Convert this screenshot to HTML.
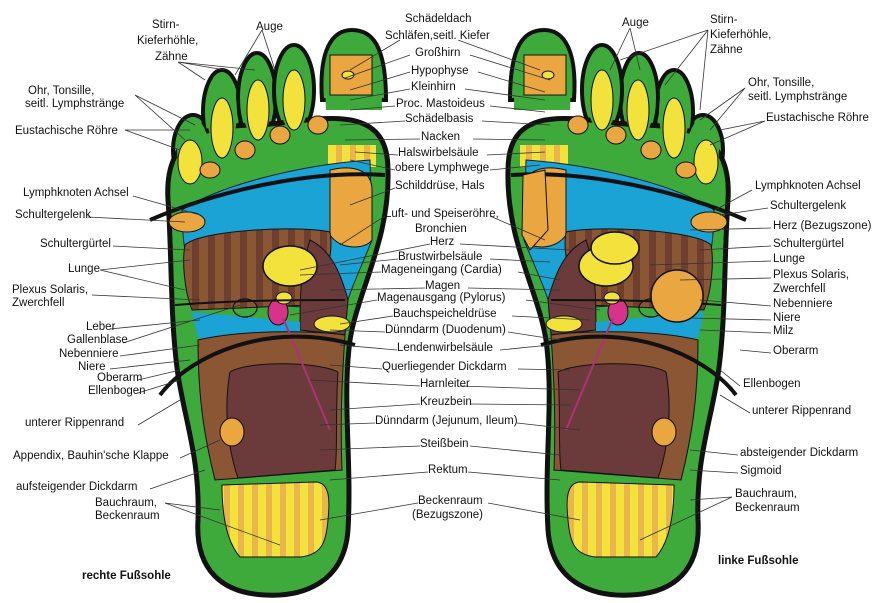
<!DOCTYPE html>
<html><head><meta charset="utf-8"><style>
html,body{margin:0;padding:0;background:#fff;}
svg{display:block;}
text{font-family:"Liberation Sans",sans-serif;font-size:11.5px;fill:#111;}
</style></head><body>
<svg width="894" height="603" viewBox="0 0 894 603" xmlns="http://www.w3.org/2000/svg">
<defs>
<pattern id="br" width="16" height="10" patternUnits="userSpaceOnUse"><rect width="16" height="10" fill="#8a5634"/><rect width="7" height="10" fill="#6e3f2e"/></pattern>
<pattern id="ys" width="14" height="10" patternUnits="userSpaceOnUse"><rect width="14" height="10" fill="#f4e23c"/><rect width="6" height="10" fill="#eab54a"/></pattern>
<g id="foot">
 <ellipse cx="193" cy="150" rx="20" ry="35" fill="#3faa3c" stroke="#111" stroke-width="4"/>
 <ellipse cx="222" cy="112" rx="19" ry="42" fill="#3faa3c" stroke="#111" stroke-width="4"/>
 <ellipse cx="257" cy="98" rx="19" ry="45" fill="#3faa3c" stroke="#111" stroke-width="4"/>
 <ellipse cx="294" cy="90" rx="20" ry="45" fill="#3faa3c" stroke="#111" stroke-width="4"/>
 <path d="M322 100 C318 40 338 30 352 30 C372 30 386 45 386 100 Z" fill="#3faa3c" stroke="#111" stroke-width="4"/>
 <path d="M168 200 C164 135 205 125 260 125 C320 120 388 100 388 170 C390 240 358 290 350 340 C342 400 352 460 348 530 C344 585 300 597 265 595 C222 593 195 570 198 520 C200 460 186 425 178 375 C170 320 172 255 168 200 Z" fill="#3faa3c" stroke="#111" stroke-width="5"/>
 <ellipse cx="193" cy="150" rx="16" ry="31" fill="#3faa3c"/>
 <ellipse cx="222" cy="112" rx="15" ry="38" fill="#3faa3c"/>
 <ellipse cx="257" cy="98" rx="15" ry="41" fill="#3faa3c"/>
 <ellipse cx="294" cy="90" rx="16" ry="41" fill="#3faa3c"/>
 <path d="M326 110 C322 45 340 34 352 34 C368 34 382 48 382 110 Z" fill="#3faa3c"/>
 <ellipse cx="190" cy="162" rx="12" ry="22" fill="#f4e23c" stroke="#111"/>
 <ellipse cx="222" cy="128" rx="11" ry="30" fill="#f4e23c" stroke="#111"/>
 <ellipse cx="258" cy="110" rx="11" ry="30" fill="#f4e23c" stroke="#111"/>
 <ellipse cx="294" cy="100" rx="11" ry="30" fill="#f4e23c" stroke="#111"/>
 <ellipse cx="210" cy="170" rx="10" ry="8" fill="#eaa640" stroke="#111"/>
 <ellipse cx="245" cy="150" rx="10" ry="9" fill="#eaa640" stroke="#111"/>
 <ellipse cx="280" cy="135" rx="10" ry="9" fill="#eaa640" stroke="#111"/>
 <ellipse cx="318" cy="125" rx="10" ry="9" fill="#eaa640" stroke="#111"/>
 <rect x="330" y="55" width="42" height="40" fill="#eaa640" stroke="#111"/>
 <ellipse cx="348" cy="75" rx="6" ry="4" fill="#f4e23c" stroke="#111"/>
 <rect x="328" y="145" width="48" height="22" fill="url(#ys)"/>
 <path d="M182 210 C220 185 300 165 370 160 L372 240 C360 270 350 290 345 310 L200 300 C186 270 182 240 182 210 Z" fill="#1ba3d6" stroke="#123" stroke-width="1"/>
 <path d="M330 170 C350 165 372 168 372 190 L372 240 C365 250 340 250 330 235 Z" fill="#eaa640" stroke="#111"/>
 <path d="M185 245 C200 230 300 225 330 232 C335 260 320 290 310 305 L192 310 C184 290 182 260 185 245 Z" fill="url(#br)" stroke="#111"/>
 <path d="M310 240 C330 250 340 270 348 300 L345 335 L300 330 C300 300 300 270 310 240 Z" fill="#6b3a3a" stroke="#111"/>
 <ellipse cx="290" cy="266" rx="27" ry="20" fill="#f4e23c" stroke="#111" stroke-width="1.5"/>
 <ellipse cx="187" cy="222" rx="18" ry="10" fill="#eaa640" stroke="#111"/>
 <path d="M192 312 L300 322 L300 340 L198 338 Z" fill="#1ba3d6"/>
 <path d="M198 340 C240 330 310 330 345 335 C342 380 340 420 342 470 L215 480 C205 440 198 400 198 340 Z" fill="#8a5634" stroke="#111"/>
 <path d="M230 372 C250 360 320 362 338 372 C335 420 338 450 335 470 L238 478 C225 440 225 400 230 372 Z" fill="#6b3a3a" stroke="#111"/>
 <ellipse cx="232" cy="432" rx="12" ry="14" fill="#eaa640" stroke="#111"/>
 <path d="M222 485 L315 482 C330 482 330 500 328 520 C326 545 320 555 300 557 L240 557 C225 540 222 510 222 485 Z" fill="url(#ys)" stroke="#111"/>
 <ellipse cx="278" cy="312" rx="10" ry="13" fill="#d7338b" stroke="#111"/>
 <ellipse cx="284" cy="298" rx="8" ry="6" fill="#f4e23c" stroke="#111"/>
 <ellipse cx="332" cy="324" rx="18" ry="8" fill="#f4e23c" stroke="#111"/>
 <ellipse cx="245" cy="308" rx="12" ry="9" fill="none" stroke="#111" stroke-width="1.2"/>
 <line x1="283" y1="318" x2="330" y2="430" stroke="#b0307a" stroke-width="2"/>
 <path d="M150 220 C220 190 310 170 385 175" fill="none" stroke="#111" stroke-width="4"/>
 <path d="M175 305 C240 300 300 300 345 300" fill="none" stroke="#111" stroke-width="2"/>
 <path d="M160 395 C190 355 270 320 355 345" fill="none" stroke="#111" stroke-width="4"/>
</g>
</defs>
<use href="#foot"/>
<use href="#foot" transform="translate(896,0) scale(-1,1)"/>
<ellipse cx="677" cy="296" rx="26" ry="26" fill="#eaa640" stroke="#111" stroke-width="1.5"/>
<ellipse cx="615" cy="248" rx="24" ry="16" fill="#f4e23c" stroke="#111" stroke-width="1.5"/>
<path d="M523 175 L545 170 L548 230 L530 250 L522 235 Z" fill="#eaa640" stroke="#111"/>

<g stroke="#333" stroke-width="0.8" fill="none">
<path d="M400 40 L350 70 M410 55 L345 78 M410 72 L350 90 M410 89 L350 100 M395 106 L350 110 M405 121 L340 125 M420 139 L345 140 M398 155 L355 152 M395 170 L350 160 M395 188 L350 205 M385 216 L340 245 M430 244 L300 270 M398 259 L340 265 M381 272 L300 275 M425 288 L330 290 M377 300 L290 315 M393 316 L340 324 M385 332 L330 330 M397 350 L340 345 M382 369 L330 365 M420 386 L310 380 M420 404 L330 410 M375 423 L320 425 M420 446 L320 450 M428 472 L330 480 M418 503 L320 520"/>
<path d="M458 40 L540 70 M470 55 L550 80 M478 72 L545 92 M465 89 L545 100 M490 106 L545 112 M482 121 L550 125 M473 139 L545 140 M487 155 L545 152 M490 170 L540 165 M490 216 L545 240 M460 244 L570 250 M490 259 L550 262 M518 272 L560 280 M468 288 L560 290 M526 300 L600 310 M512 316 L590 320 M508 332 L560 340 M500 350 L550 345 M518 369 L570 370 M460 386 L580 390 M470 404 L570 405 M517 423 L580 430 M470 446 L560 455 M468 472 L560 480 M488 503 L580 520"/>
<path d="M178 62 L205 80 M178 62 L225 70 M178 62 L255 70 M262 30 L235 75 M262 30 L275 70 M135 95 L185 140 M135 95 L195 125 M125 130 L180 150 M125 130 L190 130 M133 196 L200 215 M88 217 L185 222 M113 246 L190 250 M100 270 L190 260 M100 270 L185 290 M92 295 L200 300 M110 329 L200 320 M123 343 L240 305 M120 356 L200 345 M110 369 L190 360 M138 380 L180 370 M138 393 L180 380 M138 425 L180 400 M180 458 L220 440 M150 489 L205 470 M165 503 L220 510 M165 503 L280 545"/>
<path d="M630 28 L610 70 M630 28 L640 70 M708 30 L620 60 M708 30 L665 85 M708 30 L700 110 M745 88 L700 120 M745 88 L710 130 M765 121 L720 130 M765 121 L710 145 M752 190 L715 210 M768 208 L720 215 M771 228 L690 230 M771 246 L700 250 M771 261 L650 265 M771 278 L680 280 M771 306 L700 300 M771 320 L690 318 M771 333 L700 330 M771 353 L740 350 M740 386 L720 370 M750 413 L720 395 M738 455 L690 450 M738 473 L690 470 M732 497 L690 500 M732 497 L640 540"/>
</g>

<g>
<text x="405" y="22">Schädeldach</text>
<text x="385" y="39">Schläfen,seitl. Kiefer</text>
<text x="415" y="56">Großhirn</text>
<text x="411" y="74">Hypophyse</text>
<text x="411" y="90">Kleinhirn</text>
<text x="396" y="107">Proc. Mastoideus</text>
<text x="405" y="122">Schädelbasis</text>
<text x="421" y="140">Nacken</text>
<text x="398" y="156">Halswirbelsäule</text>
<text x="395" y="171">obere Lymphwege</text>
<text x="395" y="189">Schilddrüse, Hals</text>
<text x="385" y="217">Luft- und Speiseröhre,</text>
<text x="415" y="232">Bronchien</text>
<text x="430" y="245">Herz</text>
<text x="398" y="260">Brustwirbelsäule</text>
<text x="381" y="273">Mageneingang (Cardia)</text>
<text x="425" y="289">Magen</text>
<text x="377" y="301">Magenausgang (Pylorus)</text>
<text x="393" y="317">Bauchspeicheldrüse</text>
<text x="385" y="333">Dünndarm (Duodenum)</text>
<text x="397" y="351">Lendenwirbelsäule</text>
<text x="382" y="370">Querliegender Dickdarm</text>
<text x="420" y="387">Harnleiter</text>
<text x="420" y="405">Kreuzbein</text>
<text x="375" y="424">Dünndarm (Jejunum, Ileum)</text>
<text x="420" y="447">Steißbein</text>
<text x="428" y="473">Rektum</text>
<text x="418" y="504">Beckenraum</text>
<text x="412" y="518">(Bezugszone)</text>

<text x="152" y="28">Stirn-</text>
<text x="137" y="44">Kieferhöhle,</text>
<text x="155" y="60">Zähne</text>
<text x="256" y="30">Auge</text>
<text x="28" y="94">Ohr, Tonsille,</text>
<text x="25" y="107">seitl. Lymphstränge</text>
<text x="15" y="134">Eustachische Röhre</text>
<text x="23" y="196">Lymphknoten Achsel</text>
<text x="15" y="218">Schultergelenk</text>
<text x="40" y="247">Schultergürtel</text>
<text x="68" y="272">Lunge</text>
<text x="12" y="293">Plexus Solaris,</text>
<text x="12" y="306">Zwerchfell</text>
<text x="86" y="330">Leber</text>
<text x="67" y="343">Gallenblase</text>
<text x="59" y="357">Nebenniere</text>
<text x="78" y="370">Niere</text>
<text x="97" y="381">Oberarm</text>
<text x="88" y="394">Ellenbogen</text>
<text x="25" y="426">unterer Rippenrand</text>
<text x="13" y="459">Appendix, Bauhin'sche Klappe</text>
<text x="16" y="490">aufsteigender Dickdarm</text>
<text x="95" y="506">Bauchraum,</text>
<text x="95" y="519">Beckenraum</text>
<text x="82" y="579" style="font-weight:bold">rechte Fußsohle</text>

<text x="622" y="26">Auge</text>
<text x="710" y="23">Stirn-</text>
<text x="710" y="38">Kieferhöhle,</text>
<text x="710" y="53">Zähne</text>
<text x="748" y="86">Ohr, Tonsille,</text>
<text x="748" y="100">seitl. Lymphstränge</text>
<text x="766" y="121">Eustachische Röhre</text>
<text x="755" y="189">Lymphknoten Achsel</text>
<text x="770" y="209">Schultergelenk</text>
<text x="773" y="229">Herz (Bezugszone)</text>
<text x="773" y="247">Schultergürtel</text>
<text x="773" y="262">Lunge</text>
<text x="773" y="278">Plexus Solaris,</text>
<text x="773" y="292">Zwerchfell</text>
<text x="773" y="307">Nebenniere</text>
<text x="773" y="321">Niere</text>
<text x="773" y="334">Milz</text>
<text x="773" y="354">Oberarm</text>
<text x="743" y="387">Ellenbogen</text>
<text x="752" y="414">unterer Rippenrand</text>
<text x="740" y="456">absteigender Dickdarm</text>
<text x="740" y="474">Sigmoid</text>
<text x="735" y="497">Bauchraum,</text>
<text x="735" y="511">Beckenraum</text>
<text x="718" y="564" style="font-weight:bold">linke Fußsohle</text>
</g>
</svg>
</body></html>
